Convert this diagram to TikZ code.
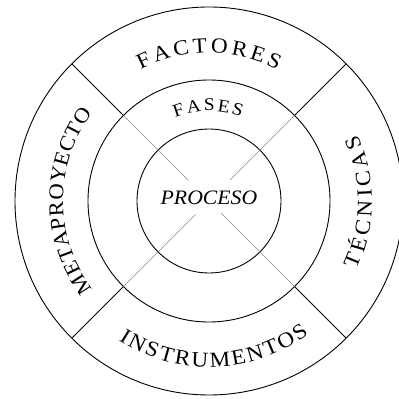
\documentclass[tikz,border=0pt]{standalone}
\usepackage{fontspec}
\usetikzlibrary{decorations.text}
\newfontfamily\serlab[FakeStretch=1.08]{Liberation Serif}
\newfontfamily\procfam[FakeStretch=1.06]{Liberation Serif}
\newcommand\ringfont{\serlab\fontsize{21.5}{24}\selectfont}
\newcommand\metafont{\serlab\fontsize{21}{24}\selectfont}
\newcommand\fasefont{\serlab\fontsize{18}{21}\selectfont}
\newcommand\procfont{\procfam\itshape\fontsize{20.5}{24}\selectfont}
\tikzset{
  ring/.style={draw=black, line width=0.9pt},
  divider/.style={draw=black, line width=0.85pt},
  faint/.style={draw=black!45, line width=0.5pt},
  curved/.style={decorate, decoration={text along path, text align=fit to path, text={#1}}}
}
\begin{document}
\begin{tikzpicture}[x=1pt,y=1pt]
\useasboundingbox (0,0) rectangle (399,399);
\fill[white] (0,0) rectangle (399,399);
\coordinate (c) at (209,198);
\begin{scope}[shift={(c)}]
  % circles
  \draw[ring] (0,0) circle[radius=194];
  \draw[ring] (0,0) circle[radius=121];
  \draw[ring] (0,0) circle[radius=72];
  % dividers in the outer ring
  \coordinate (o1) at (135:194); \coordinate (m1) at (135:121); \coordinate (i1) at (135:29);
  \coordinate (o2) at (45:194);  \coordinate (m2) at (45:121);  \coordinate (i2) at (45:30);
  \coordinate (o3) at (225:194); \coordinate (m3) at (225:121); \coordinate (i3) at (225:19);
  \coordinate (o4) at (315:194); \coordinate (m4) at (315:121); \coordinate (i4) at (315:17);
  \draw[divider] (o1) -- (m1);
  \draw[divider] (o2) -- (m2);
  \draw[divider] (o3) -- (m3);
  \draw[divider] (o4) -- (m4);
  \draw[faint] (m1) -- (i1);
  \draw[faint] (m2) -- (i2);
  \draw[faint] (m3) -- (i3);
  \draw[faint] (m4) -- (i4);
  % curved labels
  \path[curved={|\ringfont|FACTORES}] (117.5:148) arc[start angle=117.5, end angle=62.5, radius=148];
  \path[curved={|\metafont|METAPROYECTO}] (217:146) arc[start angle=217, end angle=143, radius=146];
  \path[curved={|\ringfont|TÉCNICAS}] (-25:163) arc[start angle=-25, end angle=24, radius=163];
  \path[curved={|\ringfont|INSTRUMENTOS}] (237:166) arc[start angle=237, end angle=307, radius=166];
  \path[curved={|\fasefont|FASES}] (112:90) arc[start angle=112, end angle=69, radius=90];
\end{scope}
\node[font=\procfont, inner sep=0pt] (proceso) at ([yshift=3pt]c) {PROCESO};
\end{tikzpicture}
\end{document}
